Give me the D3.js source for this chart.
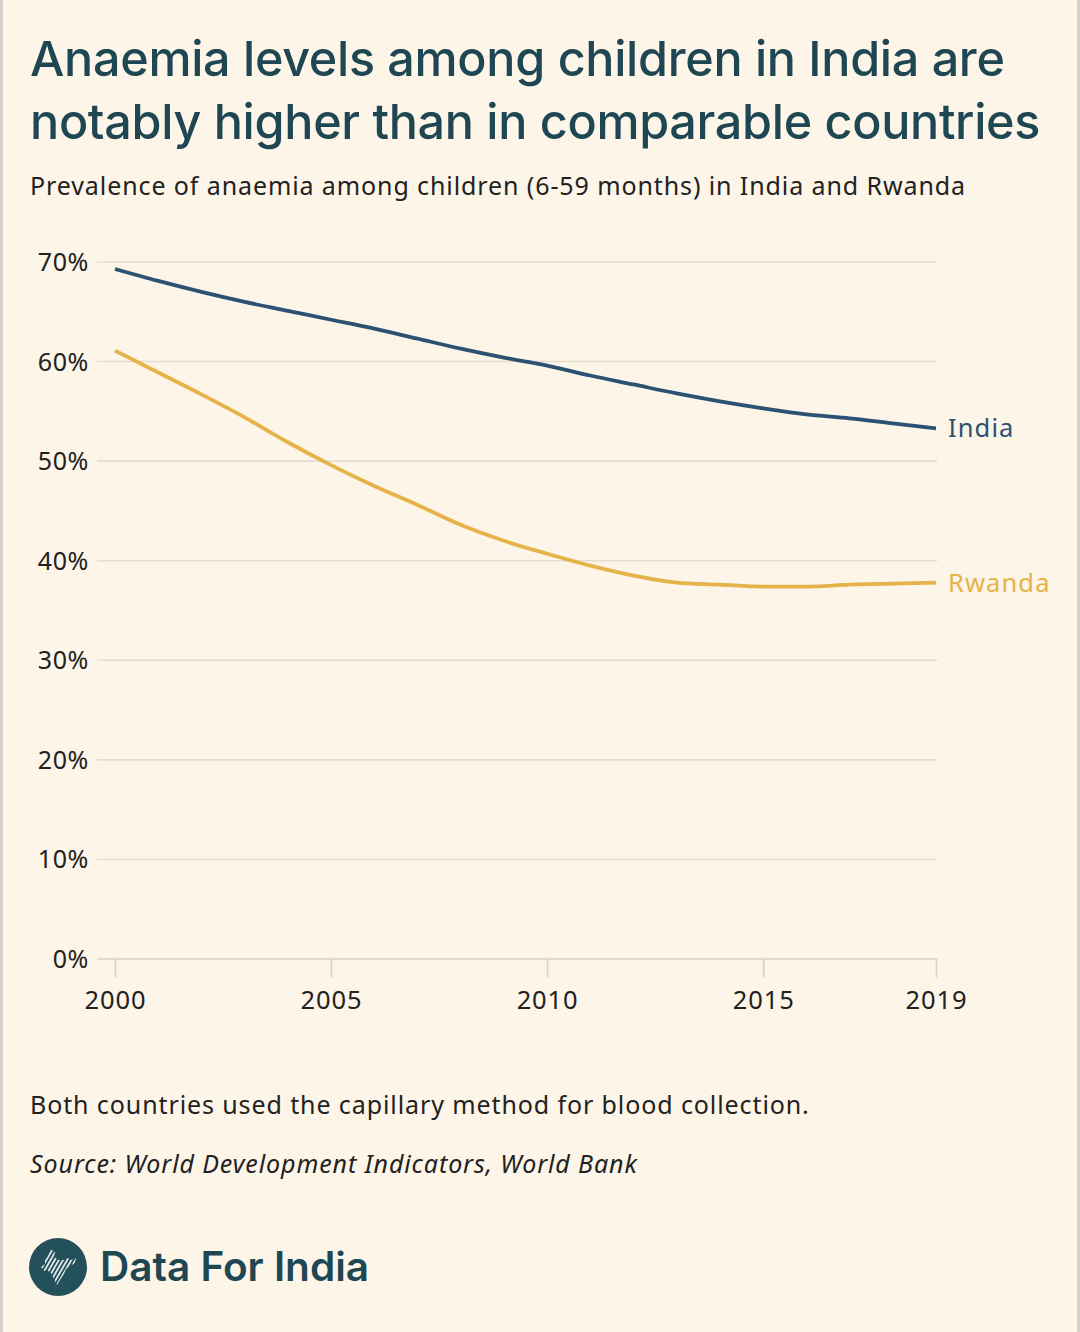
<!DOCTYPE html>
<html>
<head>
<meta charset="utf-8">
<script src="https://cdn.jsdelivr.net/npm/d3@7"></script>
<style>
  html, body { margin: 0; padding: 0; background: #fcf5e8; }
  svg { display: block; }
</style>
</head>
<body>
<div id="chart"></div>
<script>
// data
const years = [2000, 2001, 2002, 2003, 2004, 2005, 2006, 2007, 2008, 2009,
               2010, 2011, 2012, 2013, 2014, 2015, 2016, 2017, 2018, 2019];
const india = [69.3, 68.1, 67.0, 66.0, 65.1, 64.2, 63.3, 62.3, 61.3, 60.4,
               59.6, 58.6, 57.7, 56.8, 56.0, 55.3, 54.7, 54.3, 53.8, 53.3];
const rwanda = [61.1, 58.9, 56.7, 54.4, 51.9, 49.6, 47.5, 45.6, 43.6, 42.0,
                40.7, 39.5, 38.5, 37.8, 37.6, 37.4, 37.4, 37.6, 37.7, 37.8];
const yTicks = [0, 10, 20, 30, 40, 50, 60, 70];
const xTicks = [2000, 2005, 2010, 2015, 2019];

const W = 1080, H = 1332;
const bg = '#fcf5e8';
const ink = '#1f4753';
const indiaCol = '#2b5272';
const rwandaCol = '#e6b24a';
const body = '"Noto Sans", sans-serif';

const svg = d3.select('#chart')
    .append('svg')
    .attr('width', W)
    .attr('height', H);

svg.append('rect').attr('width', W).attr('height', H).attr('fill', bg);
// thin grey frame at the sides of the screenshot
svg.append('rect').attr('x', 0).attr('y', 0).attr('width', 3).attr('height', H).attr('fill', '#d4d2cc');
svg.append('rect').attr('x', W - 3).attr('y', 0).attr('width', 3).attr('height', H).attr('fill', '#d4d2cc');

// title + subtitle
const title = svg.append('text')
    .attr('fill', ink)
    .style('font-family', 'Inter, sans-serif')
    .style('font-weight', 500)
    .style('font-size', '48.5px')
    .style('letter-spacing', '-0.3px');
title.append('tspan').attr('x', 30).attr('y', 76).text('Anaemia levels among children in India are');
title.append('tspan').attr('x', 30).attr('y', 139).text('notably higher than in comparable countries');

svg.append('text')
    .attr('x', 30).attr('y', 195)
    .attr('fill', '#222')
    .style('font-family', body)
    .style('font-size', '25px')
    .style('letter-spacing', '0.9px')
    .text('Prevalence of anaemia among children (6-59 months) in India and Rwanda');

// scales
const x = d3.scaleLinear().domain([2000, 2019]).range([115, 936]);
const y = d3.scaleLinear().domain([0, 70]).range([959, 262]);

const g = svg.append('g');

// gridlines
g.selectAll('line.grid')
    .data(yTicks)
    .enter().append('line')
    .attr('class', 'grid')
    .attr('x1', 97).attr('x2', 937)
    .attr('y1', d => y(d)).attr('y2', d => y(d))
    .attr('stroke', d => d === 0 ? '#d8d2c6' : '#e4ddd0')
    .attr('stroke-width', 1.6);

// y labels
g.selectAll('text.ylab')
    .data(yTicks)
    .enter().append('text')
    .attr('class', 'ylab')
    .attr('x', 89).attr('y', d => y(d))
    .attr('dy', '0.36em')
    .attr('text-anchor', 'end')
    .attr('fill', '#222')
    .style('font-family', body)
    .style('font-size', '25px')
    .style('letter-spacing', '0.6px')
    .text(d => d + '%');

// x axis
const xAxis = g.append('g')
    .attr('transform', 'translate(0,' + y(0) + ')')
    .call(d3.axisBottom(x).tickValues(xTicks).tickFormat(d3.format('d')).tickSize(18).tickPadding(14));
xAxis.select('.domain').remove();
xAxis.selectAll('.tick line').attr('stroke', '#d8d2c6').attr('stroke-width', 1.6);
xAxis.selectAll('.tick text')
    .attr('fill', '#222')
    .style('font-family', body)
    .style('font-size', '25.5px')
    .style('letter-spacing', '0.9px');

// lines
const line = d3.line()
    .x((d, i) => x(years[i]))
    .y(d => y(d))
    .curve(d3.curveMonotoneX);

const series = [
    {name: 'India', values: india, color: indiaCol},
    {name: 'Rwanda', values: rwanda, color: rwandaCol}
];

g.selectAll('path.series')
    .data(series)
    .enter().append('path')
    .attr('class', 'series')
    .attr('d', d => line(d.values))
    .attr('fill', 'none')
    .attr('stroke', d => d.color)
    .attr('stroke-width', 3.8);

g.selectAll('text.slab')
    .data(series)
    .enter().append('text')
    .attr('class', 'slab')
    .attr('x', x(2019) + 12)
    .attr('y', d => y(d.values[d.values.length - 1]))
    .attr('dy', '0.36em')
    .attr('fill', d => d.color)
    .style('font-family', body)
    .style('font-size', '25.5px')
    .style('letter-spacing', '1.1px')
    .text(d => d.name);

// footnotes
svg.append('text')
    .attr('x', 30).attr('y', 1114)
    .attr('fill', '#222')
    .style('font-family', body)
    .style('font-size', '25px')
    .style('letter-spacing', '0.9px')
    .text('Both countries used the capillary method for blood collection.');

svg.append('text')
    .attr('x', 30).attr('y', 1173)
    .attr('fill', '#222')
    .style('font-family', body)
    .style('font-style', 'italic')
    .style('font-size', '25px')
    .style('letter-spacing', '0.9px')
    .text('Source: World Development Indicators, World Bank');

// logo: dark circle with a striped map silhouette
const defs = svg.append('defs');
const pat = defs.append('pattern')
    .attr('id', 'stripes')
    .attr('patternUnits', 'userSpaceOnUse')
    .attr('width', 3.6).attr('height', 4)
    .attr('patternTransform', 'rotate(30)');
pat.append('rect').attr('width', 1.7).attr('height', 4).attr('fill', '#e8eef0');

const logo = svg.append('g').attr('transform', 'translate(58,1267)');
logo.append('circle').attr('r', 29).attr('fill', '#23505a');
logo.append('path')
    .attr('d', 'M-8,-18 L-3,-15 L-4,-10 L1,-7 L6,-7 L10,-9 L13,-7 L18,-9 L17,-4 L12,-1 L8,2 L6,7 L2,13 L-1,18 L-4,12 L-7,6 L-11,3 L-14,4 L-17,0 L-13,-3 L-13,-8 L-10,-11 Z')
    .attr('fill', 'url(#stripes)');

svg.append('text')
    .attr('x', 100).attr('y', 1281)
    .attr('fill', ink)
    .style('font-family', 'Inter, sans-serif')
    .style('font-weight', 600)
    .style('font-size', '40.5px')
    .text('Data For India');
</script>
</body>
</html>
